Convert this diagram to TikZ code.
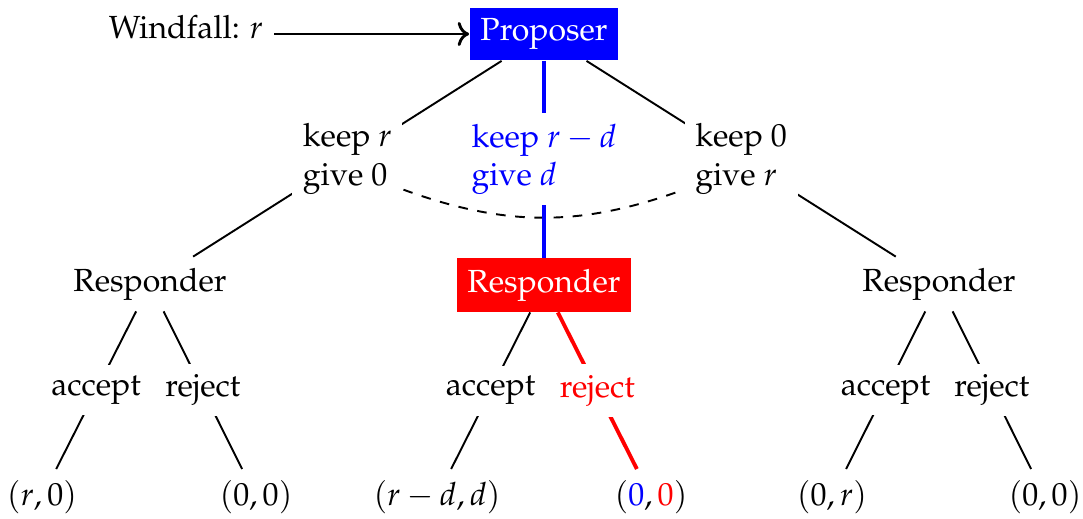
\documentclass[tikz,border=0pt]{standalone}
\usepackage[T1]{fontenc}
\usepackage{mathpazo}
\usepackage{xcolor}
\usetikzlibrary{arrows.meta, backgrounds}

\begin{document}
\begin{tikzpicture}[x=0.3125pt, y=0.3125pt,
    mover/.style={fill=#1, text=white},
    offer/.style={midway, fill=white, align=left},
    choice/.style={midway, fill=white},
    branch/.style={semithick},
    played/.style={very thick, draw=#1}]
  \useasboundingbox (0,0) rectangle (1083,-518);

  % players
  \node[anchor=base] (wind) at (186,-38) {Windfall: $r$};
  \node[mover=blue] (prop) at (544,-34) {Proposer};
  \node (respL) at (150,-284) {Responder};
  \node[mover=red] (respM) at (544,-285) {Responder};
  \node (respR) at (939,-284) {Responder};

  % payoffs
  \node (payLa) at (42,-497) {$(r,0)$};
  \node (payLr) at (256,-497) {$(0,0)$};
  \node (payMa) at (437,-497) {$(r-d,d)$};
  \node (payMr) at (651,-497) {$(\textcolor{blue}{0},\textcolor{red}{0})$};
  \node (payRa) at (832,-497) {$(0,r)$};
  \node (payRr) at (1045,-497) {$(0,0)$};

  \draw[line width=0.9pt, ->] (wind.east |- prop.west) -- (prop.west);

  % offers
  \draw[branch] (prop) -- (respL) node[offer] (offL) {keep $r$\\give $0$};
  \draw[played=blue] (prop) -- (respM) node[offer, text=blue] (offM) {keep $r-d$\\give $d$};
  \draw[branch] (prop) -- (respR) node[offer] (offR) {keep $0$\\give $r$};
  \begin{scope}[on background layer]
    \draw[semithick, dashed] ([yshift=5pt]offL.south east) to[bend right=20] ([yshift=5pt]offR.south west);
  \end{scope}

  % answers
  \draw[branch] (respL) -- (payLa) node[choice] (accL) {accept};
  \draw[branch] (respL) -- (payLr) node[choice] (rejL) {reject};
  \draw[branch] (respM) -- (payMa) node[choice] (accM) {accept};
  \draw[played=red] (respM) -- (payMr) node[choice, text=red] (rejM) {reject};
  \draw[branch] (respR) -- (payRa) node[choice] (accR) {accept};
  \draw[branch] (respR) -- (payRr) node[choice] (rejR) {reject};
\end{tikzpicture}
\end{document}
